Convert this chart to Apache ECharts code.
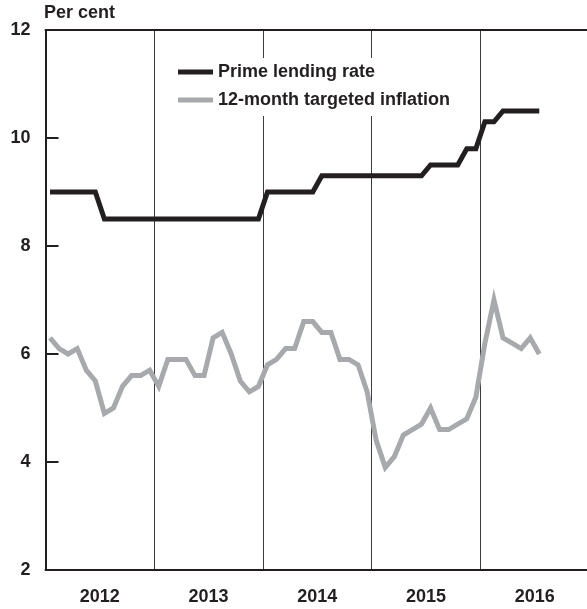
<!DOCTYPE html>
<html>
<head>
<meta charset="utf-8">
<script src="https://cdn.jsdelivr.net/npm/echarts@6/dist/echarts.min.js"></script>
<style>
html,body{margin:0;padding:0;background:#fff;}
#chart{width:587px;height:609px;}
</style>
</head>
<body>
<div id="chart"></div>
<script>
// Monthly observations, Jan 2012 – Jul 2016
const months = [
  '2012-01','2012-02','2012-03','2012-04','2012-05','2012-06','2012-07','2012-08','2012-09','2012-10','2012-11','2012-12',
  '2013-01','2013-02','2013-03','2013-04','2013-05','2013-06','2013-07','2013-08','2013-09','2013-10','2013-11','2013-12',
  '2014-01','2014-02','2014-03','2014-04','2014-05','2014-06','2014-07','2014-08','2014-09','2014-10','2014-11','2014-12',
  '2015-01','2015-02','2015-03','2015-04','2015-05','2015-06','2015-07','2015-08','2015-09','2015-10','2015-11','2015-12',
  '2016-01','2016-02','2016-03','2016-04','2016-05','2016-06','2016-07'
];
const primeRate = [
  9.0,9.0,9.0,9.0,9.0,9.0,8.5,8.5,8.5,8.5,8.5,8.5,
  8.5,8.5,8.5,8.5,8.5,8.5,8.5,8.5,8.5,8.5,8.5,8.5,
  9.0,9.0,9.0,9.0,9.0,9.0,9.3,9.3,9.3,9.3,9.3,9.3,
  9.3,9.3,9.3,9.3,9.3,9.3,9.5,9.5,9.5,9.5,9.8,9.8,
  10.3,10.3,10.5,10.5,10.5,10.5,10.5
];
const inflation = [
  6.3,6.1,6.0,6.1,5.7,5.5,4.9,5.0,5.4,5.6,5.6,5.7,
  5.4,5.9,5.9,5.9,5.6,5.6,6.3,6.4,6.0,5.5,5.3,5.4,
  5.8,5.9,6.1,6.1,6.6,6.6,6.4,6.4,5.9,5.9,5.8,5.3,
  4.4,3.9,4.1,4.5,4.6,4.7,5.0,4.6,4.6,4.7,4.8,5.2,
  6.2,7.0,6.3,6.2,6.1,6.3,6.0
];
const yearLabels = ['2012','2013','2014','2015','2016'];
const seriesNames = ['Prime lending rate','12-month targeted inflation'];
const yTicks = {min: 2, max: 12, interval: 2};

const FONT = '"Liberation Sans", Arial, Helvetica, sans-serif';
const INK = '#231f20';
const GREY = '#a7a9ac';
const WEIGHT = 'bold';
const FS = 18;

const toXY = arr => arr.map((v, i) => [i + 0.5, v]); // month index, centred in month

const chart = echarts.init(document.getElementById('chart'), null, {renderer: 'canvas'});
chart.setOption({
  animation: false,
  backgroundColor: '#fff',
  textStyle: {fontFamily: FONT},
  title: {
    text: 'Per cent',
    left: 44, top: 4, padding: 0,
    textStyle: {fontFamily: FONT, fontSize: FS, fontWeight: WEIGHT, color: INK}
  },
  grid: {left: 45.5, top: 30, width: 543.6, height: 540, containLabel: false, outerBoundsMode: 'none'},
  legend: {
    left: 168, top: 58,
    orient: 'vertical',
    padding: [5, 12, 7, 10],
    itemGap: 10,
    itemWidth: 35, itemHeight: 5,
    backgroundColor: '#fff',
    icon: 'rect',
    textStyle: {fontFamily: FONT, fontSize: FS, fontWeight: WEIGHT, color: INK, lineHeight: 18},
    data: [
      {name: seriesNames[0], itemStyle: {color: INK}},
      {name: seriesNames[1], itemStyle: {color: GREY}}
    ]
  },
  xAxis: [
    {
      type: 'value', position: 'bottom', min: 0, max: 60, interval: 6,
      axisLine: {show: true, lineStyle: {color: INK, width: 2}},
      axisTick: {show: false},
      splitLine: {show: false},
      axisLabel: {
        show: true, margin: 18, fontFamily: FONT, fontSize: FS, fontWeight: WEIGHT, color: INK,
        formatter: v => (v % 12 === 6 ? yearLabels[(v - 6) / 12] : '')
      }
    },
    {
      type: 'value', position: 'top', min: 0, max: 60, interval: 12,
      axisLine: {show: true, lineStyle: {color: INK, width: 2}},
      axisTick: {show: false},
      axisLabel: {show: false},
      splitLine: {show: true, lineStyle: {color: '#3c3c3c', width: 1}}
    }
  ],
  yAxis: {
    type: 'value', min: yTicks.min, max: yTicks.max, interval: yTicks.interval,
    axisLine: {show: true, lineStyle: {color: INK, width: 2}},
    axisTick: {show: true, inside: true, length: 13, lineStyle: {color: INK, width: 2}},
    splitLine: {show: false},
    axisLabel: {margin: 15, fontFamily: FONT, fontSize: FS, fontWeight: WEIGHT, color: INK}
  },
  series: [
    {
      name: seriesNames[1], type: 'line', xAxisIndex: 0,
      data: toXY(inflation), symbol: 'none',
      lineStyle: {color: GREY, width: 5, join: 'miter'},
      itemStyle: {color: GREY}, z: 2
    },
    {
      name: seriesNames[0], type: 'line', xAxisIndex: 0,
      data: toXY(primeRate), symbol: 'none',
      lineStyle: {color: INK, width: 5, join: 'miter'},
      itemStyle: {color: INK}, z: 3
    }
  ]
});
</script>
</body>
</html>
